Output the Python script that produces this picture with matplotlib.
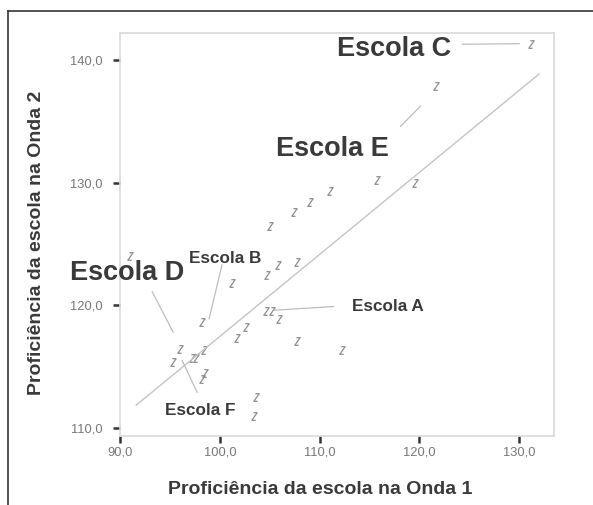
import matplotlib
matplotlib.use("Agg")
import matplotlib.pyplot as plt
from matplotlib.lines import Line2D
from matplotlib.path import Path
import numpy as np

# ---- data ----
onda1 = [131.2, 121.7, 115.7, 119.6, 111.0, 109.0, 107.4, 105.05, 91.0, 105.8,
         107.7, 104.7, 101.15, 104.6, 105.2, 105.9, 98.2, 102.6, 101.7, 107.7,
         112.2, 96.0, 98.4, 95.3, 97.2, 97.6, 98.5, 98.2, 103.6, 103.45]
onda2 = [141.35, 137.9, 130.2, 130.0, 129.3, 128.4, 127.6, 126.5, 124.0, 123.3,
         123.5, 122.5, 121.8, 119.5, 119.5, 118.85, 118.6, 118.25, 117.35, 117.1,
         116.35, 116.45, 116.35, 115.4, 115.7, 115.7, 114.5, 114.0, 112.55, 110.95]

fit_intercept = 50.57
fit_slope = 0.669
fit_range = [91.6, 132.0]

x_ticks = [90.0, 100.0, 110.0, 120.0, 130.0]
y_ticks = [110.0, 120.0, 130.0, 140.0]
x_tick_labels = ["90,0", "100,0", "110,0", "120,0", "130,0"]
y_tick_labels = ["110,0", "120,0", "130,0", "140,0"]

# labels: text, text position (data), leader start, leader end, font size
labels = ["Escola C", "Escola E", "Escola D", "Escola B", "Escola A", "Escola F"]
label_pos = [(117.5, 140.95), (111.25, 132.75), (90.7, 122.65), (100.55, 123.85), (116.8, 119.9), (98.0, 111.4)]
leader_from = [(124.3, 141.3), (118.1, 134.6), (93.2, 121.1), (100.2, 123.3), (111.4, 119.9), (97.7, 112.9)]
leader_to = [(130.0, 141.35), (120.1, 136.25), (95.3, 117.8), (98.9, 118.9), (105.5, 119.6), (96.2, 115.5)]
label_size = [19.5, 19.5, 19.5, 12.3, 12.3, 12.3]

# ---- figure ----
fig = plt.figure(figsize=(5.93, 5.05), dpi=100)
plt.rcParams['font.family'] = ['Liberation Sans', 'DejaVu Sans']

ax = fig.add_axes([0.2029, 0.1366, 0.7315, 0.7983])
ax.set_xlim(90.0, 133.5)
ax.set_ylim(109.33, 142.23)

# small slanted "z" glyph marker
zmark = Path([(-0.15, 0.5), (0.35, 0.5), (-0.35, -0.5), (0.15, -0.5)],
             [Path.MOVETO, Path.LINETO, Path.LINETO, Path.LINETO])
ax.plot(onda1, onda2, linestyle='none', marker=zmark, markersize=5.5,
        markerfacecolor='none', markeredgecolor='#8e8e8e', markeredgewidth=0.9)

fx = np.array(fit_range)
ax.plot(fx, fit_intercept + fit_slope * fx, color='#c4c4c4', linewidth=1.0)

for t, p, a, b, s in zip(labels, label_pos, leader_from, leader_to, label_size):
    ax.plot([a[0], b[0]], [a[1], b[1]], color='#bdbdbd', linewidth=0.9, clip_on=False)
    ax.text(p[0], p[1], t, fontsize=s, fontweight='bold', color='#3a3a3a',
            ha='center', va='center', clip_on=False)

for sp in ax.spines.values():
    sp.set_color('#d9d9d9')
    sp.set_linewidth(1.2)

ax.set_xticks(x_ticks)
ax.set_xticklabels(x_tick_labels)
ax.set_yticks(y_ticks)
ax.set_yticklabels(y_tick_labels)
ax.tick_params(axis='both', direction='out', length=5, width=1.8, color='#333333',
               labelsize=9.3, labelcolor='#777777')
ax.tick_params(axis='x', pad=2.5)
ax.tick_params(axis='y', pad=8)

ax.set_xlabel("Proficiência da escola na Onda 1", fontsize=14, fontweight='bold',
              color='#3a3a3a')
ax.set_ylabel("Proficiência da escola na Onda 2", fontsize=14, fontweight='bold',
              color='#3a3a3a')
ax.xaxis.set_label_coords((320.5 - 120.3) / 433.8, -(490 - 436) / 403.3)
ax.yaxis.set_label_coords(-(120.3 - 36) / 433.8, (436 - 243) / 403.3)
ax.xaxis.label.set_va('center')
ax.yaxis.label.set_va('center')

# outer border (left and top only visible)
fig.add_artist(Line2D([0.014, 0.014], [0.0, 0.979], color='#333333', linewidth=1.2,
                      transform=fig.transFigure))
fig.add_artist(Line2D([0.014, 1.0], [0.979, 0.979], color='#333333', linewidth=1.2,
                      transform=fig.transFigure))

fig.savefig("out.png", dpi=100)
